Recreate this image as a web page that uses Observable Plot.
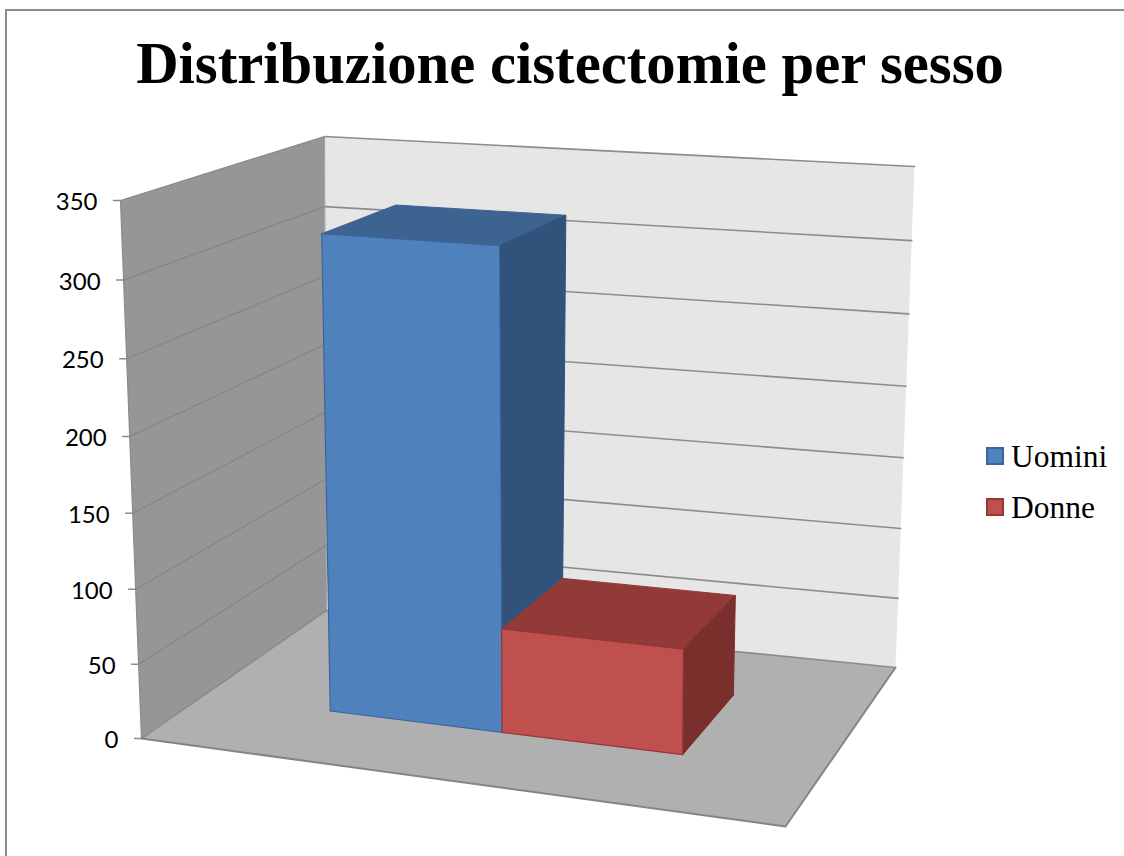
<!DOCTYPE html>
<html lang="it">
<head>
<meta charset="utf-8">
<script src="https://cdn.jsdelivr.net/npm/d3@7"></script>
<script src="https://cdn.jsdelivr.net/npm/@observablehq/plot@0.6"></script>
<style>
  html, body { margin: 0; background: #fff; }
  #page { position: relative; width: 1124px; height: 856px; overflow: hidden; }
  #frame { position: absolute; left: 5px; top: 9px; right: -4px; bottom: -4px; border: 2px solid #8c8c8c; }
  h1 { margin: 0; height: 120px; padding-top: 35px; box-sizing: border-box; text-align: center;
       position: relative; left: 8px; width: 1124px;
       font: bold 58.7px/1 "Liberation Serif", serif; color: #000; }
  #plot svg { display: block; }
  #legend { position: absolute; left: 986px; top: 441px; font: 31.5px/1 "Liberation Serif", serif; color: #000; }
  #legend div { display: flex; align-items: center; height: 30px; margin-bottom: 21px; }
  #legend i { display: block; box-sizing: border-box; width: 18px; height: 18px; margin-right: 7px; border: 2px solid; }
  #legend span { position: relative; top: 1px; }
</style>
</head>
<body>
<div id="page">
  <div id="frame"></div>
  <h1>Distribuzione cistectomie per sesso</h1>
  <div id="plot"></div>
  <div id="legend"></div>
</div>
<script>
// Values
const categories = ["Uomini", "Donne"];
const cases = [320, 70];
const yTicks = [0, 50, 100, 150, 200, 250, 300, 350];
const yMax = 350;

// Palette: front, top and side of each bar, plus its outline
const frontColors = ["#4f81bd", "#c0504d"];
const topColors = ["#3d6390", "#923a38"];
const sideColors = ["#31527a", "#7a2f2d"];
const edgeColors = ["#3a659c", "#953735"];

// Bar footprint in floor units (0..1 across and 0..1 into the room)
const barSlots = [[0.228, 0.517], [0.517, 0.797]];
const barDepth = [0.305, 0.70];

// Camera view: the room corners on the page
const floorCorners = [[141, 738], [785, 826], [895, 667], [326, 610]];
const ceilingCorners = [[120, 200], [786, 245], [914, 166], [324, 136]];
const heightBias = 0.96;

// Unit square to quadrilateral perspective map
function quadMap([p0, p1, p2, p3]) {
  const dx1 = p1[0] - p2[0], dx2 = p3[0] - p2[0], sx = p0[0] - p1[0] + p2[0] - p3[0];
  const dy1 = p1[1] - p2[1], dy2 = p3[1] - p2[1], sy = p0[1] - p1[1] + p2[1] - p3[1];
  const den = dx1 * dy2 - dx2 * dy1;
  const g = (sx * dy2 - dx2 * sy) / den, h = (dx1 * sy - sx * dy1) / den;
  const a = p1[0] - p0[0] + g * p1[0], b = p3[0] - p0[0] + h * p3[0];
  const d = p1[1] - p0[1] + g * p1[1], e = p3[1] - p0[1] + h * p3[1];
  return (u, w) => {
    const q = g * u + h * w + 1;
    return [(a * u + b * w + p0[0]) / q, (d * u + e * w + p0[1]) / q];
  };
}
const floorMap = quadMap(floorCorners);
const ceilingMap = quadMap(ceilingCorners);

// Room position (across, depth, value) to page position
function project(u, w, value) {
  const s = value / yMax;
  const t = heightBias * s / (1 + (heightBias - 1) * s);
  const f = floorMap(u, w), c = ceilingMap(u, w);
  return {x: f[0] + (c[0] - f[0]) * t, y: f[1] + (c[1] - f[1]) * t};
}

// Closed filled polygon through room positions
const face = (points, fill, stroke = "none", strokeWidth = 1) => {
  const ring = points.map(p => project(...p));
  ring.push(ring[0]);
  return Plot.line(ring, {x: "x", y: "y", fill, stroke, strokeWidth, curve: "linear"});
};
// Open line through room positions
const edge = (points, stroke, strokeWidth) =>
  Plot.line(points.map(p => project(...p)), {x: "x", y: "y", stroke, strokeWidth});

const walls = [
  face([[0, 0, 0], [0, 1, 0], [0, 1, yMax], [0, 0, yMax]], "#969696"),
  face([[0, 1, 0], [1, 1, 0], [1, 1, yMax], [0, 1, yMax]], "#e6e6e6"),
  face([[0, 0, 0], [1, 0, 0], [1, 1, 0], [0, 1, 0]], "#b0b0b0")
];

const gridlines = yTicks.flatMap(v => [
  edge([[0, 0, v], [0, 1, v]], "#858585", 1.2),
  edge([[0, 1, v], [1, 1, v]], "#8c8c8c", 1.6)
]);

const outline = [
  edge([[0, 0, 0], [0, 0, yMax]], "#8a8a8a", 1.2),
  edge([[0, 1, 0], [0, 1, yMax]], "#a0a0a0", 1),
  edge([[0, 0, 0], [1, 0, 0], [1, 1, 0]], "#858585", 2),
  edge([[0, 0, 0], [0, 1, 0]], "#8a8a8a", 1)
];

const tickEnds = yTicks.map(v => project(0, 0, v));
const tickMarks = tickEnds.map(p =>
  Plot.line([{x: p.x - 7, y: p.y}, p], {x: "x", y: "y", stroke: "#8a8a8a", strokeWidth: 1.5}));
const tickLabels = Plot.text(yTicks.map((v, i) => ({v, ...tickEnds[i]})), {
  x: "x", y: "y", text: d => String(d.v), textAnchor: "end", dx: -23, dy: 2,
  fontFamily: "Lato, sans-serif", fontSize: 24, fill: "#000"
});

// One box per category, back faces first
const bars = categories.flatMap((name, i) => {
  const [u0, u1] = barSlots[i], [w0, w1] = barDepth, v = cases[i];
  return [
    face([[u0, w0, v], [u1, w0, v], [u1, w1, v], [u0, w1, v]], topColors[i], topColors[i]),
    face([[u1, w0, 0], [u1, w1, 0], [u1, w1, v], [u1, w0, v]], sideColors[i], sideColors[i]),
    face([[u0, w0, 0], [u1, w0, 0], [u1, w0, v], [u0, w0, v]], frontColors[i], edgeColors[i], 1.2)
  ];
});

const chart = Plot.plot({
  width: 1124,
  height: 736,
  margin: 0,
  x: {domain: [0, 1124], range: [0, 1124], axis: null},
  y: {domain: [120, 856], range: [0, 736], axis: null},
  marks: [...walls, ...gridlines, ...outline, ...tickMarks, tickLabels, ...bars]
});
document.getElementById("plot").append(chart);

// Legend keyed to the bar colours
const legend = document.getElementById("legend");
categories.forEach((name, i) => {
  const row = document.createElement("div");
  const key = document.createElement("i");
  key.style.background = frontColors[i];
  key.style.borderColor = edgeColors[i];
  const label = document.createElement("span");
  label.textContent = name;
  row.append(key, label);
  legend.append(row);
});
</script>
</body>
</html>
